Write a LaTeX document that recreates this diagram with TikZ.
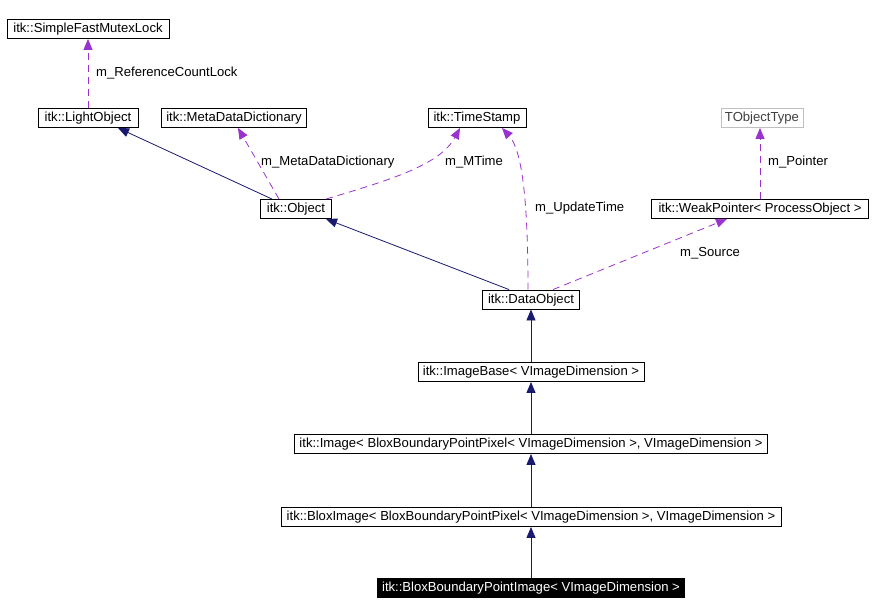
\documentclass[tikz,border=0pt]{standalone}
\usepackage{fontspec}
\setmainfont{Liberation Sans}
\usetikzlibrary{arrows.meta}
\definecolor{navy}{HTML}{191970}
\definecolor{purp}{HTML}{9A32CD}
\definecolor{grayb}{HTML}{BFBFBF}
\definecolor{grayt}{HTML}{404040}
\tikzset{
 cls/.style={draw=black, line width=0.9pt, fill=white, font=\fontsize{13.1}{15}\selectfont, minimum height=19pt, text height=9.5pt, text depth=2.5pt, inner sep=1pt, anchor=center},
 ext/.style={cls, draw=grayb, text=grayt},
 mainbox/.style={cls, fill=black, text=white},
 inh/.style={draw=navy, line width=0.8pt, -{Triangle[length=11pt,width=9pt]}},
 use/.style={draw=purp, line width=0.8pt, dash pattern=on 7pt off 5pt, -{Triangle[length=11pt,width=9pt]}},
 lbl/.style={font=\fontsize{13.1}{15}\selectfont, anchor=west, inner sep=0pt}
}
\begin{document}
\begin{tikzpicture}[x=1pt,y=-1pt]
\useasboundingbox[fill=white] (0,0) rectangle (873,614);
\node[cls, minimum width=162pt] (sfml) at (88,29) {itk::SimpleFastMutexLock};
\node[cls, minimum width=100pt] (light) at (88,118) {itk::LightObject};
\node[cls, minimum width=145pt] (mdd) at (234,118) {itk::MetaDataDictionary};
\node[cls, minimum width=98pt] (ts) at (477,118) {itk::TimeStamp};
\node[ext, minimum width=82pt] (tot) at (762,118) {TObjectType};
\node[cls, minimum width=71pt] (obj) at (296,209) {itk::Object};
\node[cls, minimum width=217pt] (wp) at (760,209) {itk::WeakPointer< ProcessObject >};
\node[cls, minimum width=97pt] (dobj) at (531,299.5) {itk::DataObject};
\node[cls, minimum width=226pt] (ib) at (531,372) {itk::ImageBase< VImageDimension >};
\node[cls, minimum width=473pt] (img) at (531,444) {itk::Image< BloxBoundaryPointPixel< VImageDimension >, VImageDimension >};
\node[cls, minimum width=500pt] (blox) at (531,517) {itk::BloxImage< BloxBoundaryPointPixel< VImageDimension >, VImageDimension >};
\node[mainbox, minimum width=307pt] (bbpi) at (531,587.5) {itk::BloxBoundaryPointImage< VImageDimension >};

\draw[use] (light.north) -- (sfml.south);
\draw[inh] ([xshift=-24pt]obj.north) -- ([xshift=30pt]light.south);
\draw[use] ([xshift=-17pt]obj.north) -- ([xshift=4pt]mdd.south);
\draw[use] ([xshift=30pt]obj.north) .. controls (390,180) and (440,165) .. ([xshift=-17pt]ts.south);
\draw[use] ([xshift=-3pt]dobj.north) .. controls (528,200) and (522,150) .. ([xshift=25pt]ts.south);
\draw[inh] ([xshift=-22pt]dobj.north) -- ([xshift=30pt]obj.south);
\draw[use] ([xshift=22pt]dobj.north) -- ([xshift=-33pt]wp.south);
\draw[use] (wp.north) -- (wp.north |- tot.south);
\draw[inh] (ib.north) -- (dobj.south);
\draw[inh] (img.north) -- (ib.south);
\draw[inh] (blox.north) -- (img.south);
\draw[inh] (bbpi.north) -- (blox.south);

\node[lbl] (l1) at (96,73) {m\_ReferenceCountLock};
\node[lbl] (l2) at (261,162) {m\_MetaDataDictionary};
\node[lbl] (l3) at (445,162) {m\_MTime};
\node[lbl] (l4) at (535,208) {m\_UpdateTime};
\node[lbl] (l5) at (768,162) {m\_Pointer};
\node[lbl] (l6) at (680,253) {m\_Source};
\end{tikzpicture}
\end{document}
